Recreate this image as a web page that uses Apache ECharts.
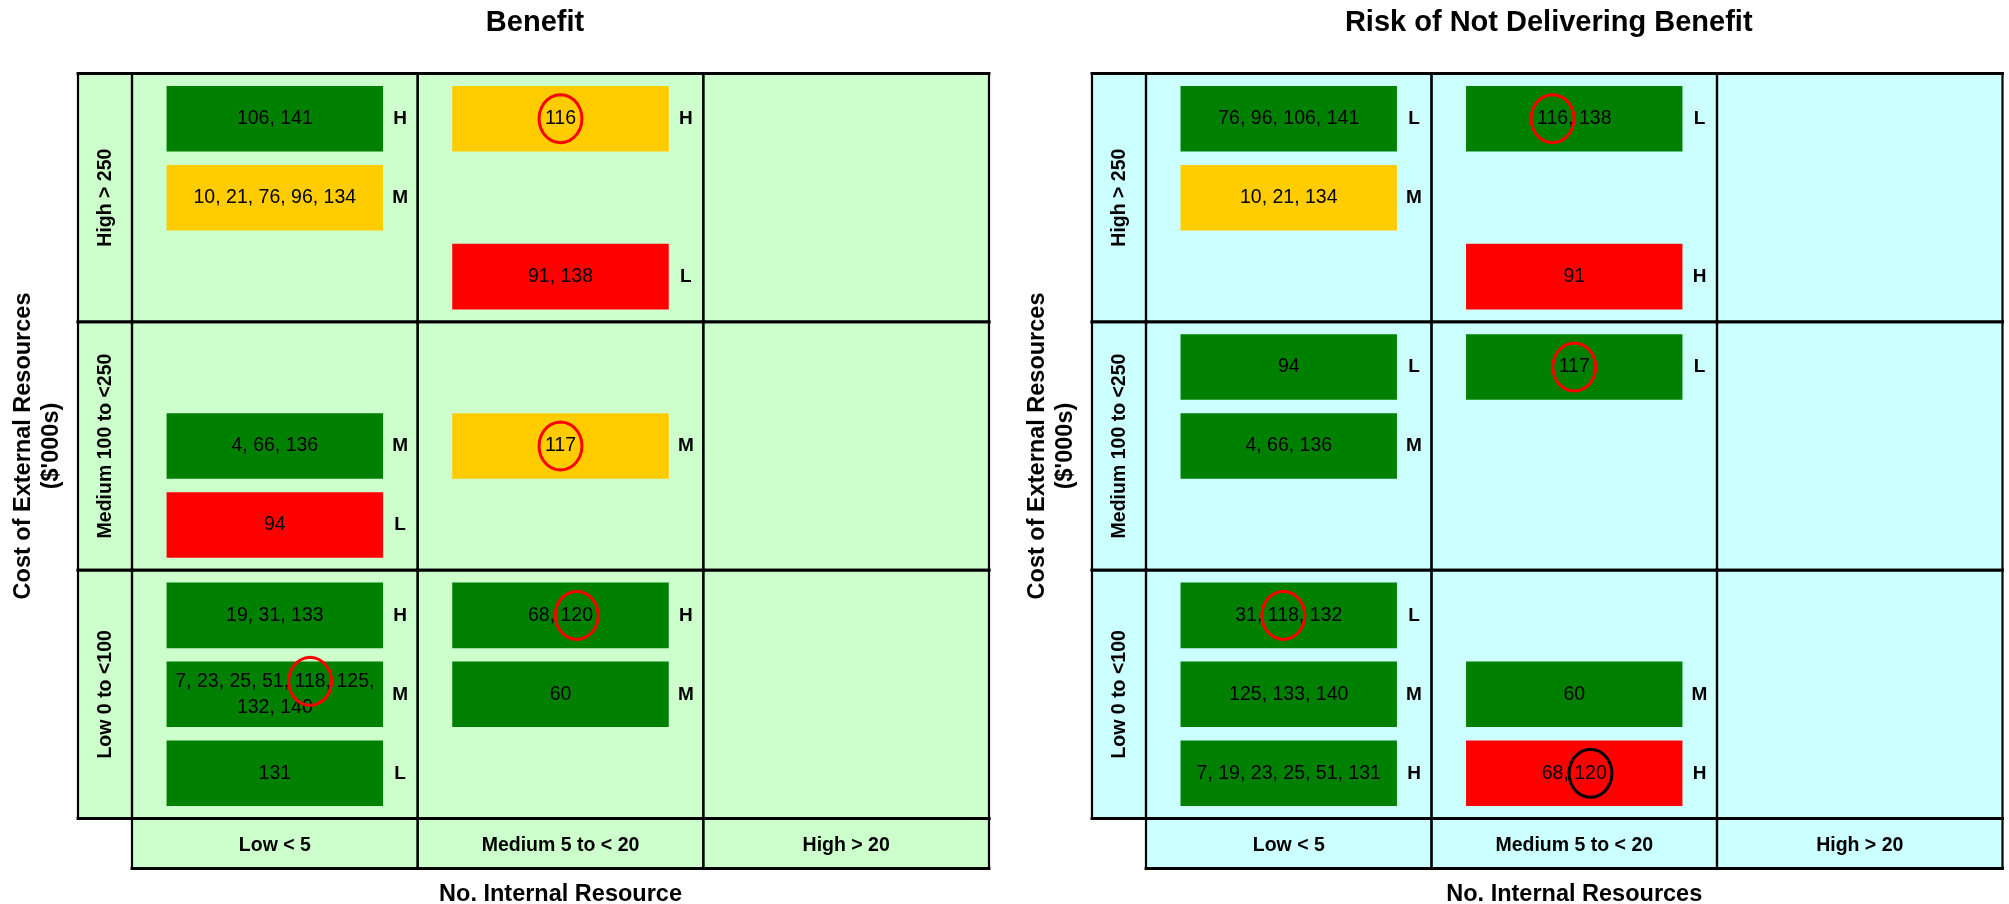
<!DOCTYPE html>
<html>
<head>
<meta charset="utf-8">
<script src="https://cdn.jsdelivr.net/npm/echarts@6/dist/echarts.min.js"></script>
<style>
  html, body { margin: 0; padding: 0; background: #ffffff; }
  #chart { width: 2009px; height: 904px; }
</style>
</head>
<body>
<div id="chart"></div>
<script>
// Axis categories (rows run top to bottom, columns left to right)
const ROW_LABELS = ['High > 250', 'Medium 100 to <250', 'Low 0 to <100'];
const COL_LABELS = ['Low < 5', 'Medium 5 to < 20', 'High > 20'];
const PANEL_TITLES = ['Benefit', 'Risk of Not Delivering Benefit'];
const X_TITLES = ['No. Internal Resource', 'No. Internal Resources'];
const Y_TITLE = "Cost of External Resources\n($'000s)";

// Each entry: [column, row, slot within cell, project ids, rating, colour band, highlighted id]
const BENEFIT_ITEMS = [
  [0, 0, 0, '106, 141', 'H', 'G', null],
  [0, 0, 1, '10, 21, 76, 96, 134', 'M', 'Y', null],
  [1, 0, 0, '116', 'H', 'Y', '116'],
  [1, 0, 2, '91, 138', 'L', 'R', null],
  [0, 1, 1, '4, 66, 136', 'M', 'G', null],
  [0, 1, 2, '94', 'L', 'R', null],
  [1, 1, 1, '117', 'M', 'Y', '117'],
  [0, 2, 0, '19, 31, 133', 'H', 'G', null],
  [0, 2, 1, '7, 23, 25, 51, 118, 125,\n132, 140', 'M', 'G', '118'],
  [0, 2, 2, '131', 'L', 'G', null],
  [1, 2, 0, '68, 120', 'H', 'G', '120'],
  [1, 2, 1, '60', 'M', 'G', null]
];

const RISK_ITEMS = [
  [0, 0, 0, '76, 96, 106, 141', 'L', 'G', null],
  [0, 0, 1, '10, 21, 134', 'M', 'Y', null],
  [1, 0, 0, '116, 138', 'L', 'G', '116'],
  [1, 0, 2, '91', 'H', 'R', null],
  [0, 1, 0, '94', 'L', 'G', null],
  [0, 1, 1, '4, 66, 136', 'M', 'G', null],
  [1, 1, 0, '117', 'L', 'G', '117'],
  [0, 2, 0, '31, 118, 132', 'L', 'G', '118'],
  [0, 2, 1, '125, 133, 140', 'M', 'G', null],
  [0, 2, 2, '7, 19, 23, 25, 51, 131', 'H', 'G', null],
  [1, 2, 1, '60', 'M', 'G', null],
  [1, 2, 2, '68, 120', 'H', 'R', '120']
];

// ---- styling and layout ----
const BAND_COLORS = { G: '#008000', Y: '#FFCC00', R: '#FF0000' };
const FONT = 'Arial, "Liberation Sans", sans-serif';
const BOX_FONT_SIZE = 19.5;
const BOX_LINE_H = 26;
const SLOT_CENTERS = [0.182, 0.5, 0.818];   // slot centre as a fraction of the row
const BOX_W_FRAC = 0.758;                    // box width as a fraction of the column
const BOX_H_FRAC = 0.264;                    // box height as a fraction of the row
const RATING_INSET = 17.5;                   // rating letter centre, px from the column's right edge
const RING_RX = 21.5, RING_RY = 24;
const H_RULE = 2.8, V_RULE = 2.2;            // border widths of horizontal / vertical rules

const GRID_TOP = 73.5, GRID_HEIGHT = 745;
const LABEL_COL_W = 54, LABEL_ROW_H = 50;
const PANELS = [
  { items: BENEFIT_ITEMS, left: 132, width: 857, bg: '#CCFFCC' },
  { items: RISK_ITEMS, left: 1146, width: 856.5, bg: '#CCFFFF' }
];

const measureCtx = document.createElement('canvas').getContext('2d');
measureCtx.font = BOX_FONT_SIZE + 'px ' + FONT;
const textWidth = s => measureCtx.measureText(s).width;

function halfLabel(labels) {
  return function (v) {
    const i = v - 0.5;
    return Number.isInteger(i) && labels[i] ? labels[i] : '';
  };
}

// Matrix cells, row-label strip and column-label strip
function cellData() {
  const d = [];
  for (let r = 0; r < 3; r++) for (let c = 0; c < 3; c++) d.push([c, r, 0]);
  for (let r = 0; r < 3; r++) d.push([0, r, 1]);
  for (let c = 0; c < 3; c++) d.push([c, 3, 2]);
  return d;
}

function rule(x1, y1, x2, y2, w) {
  return {
    type: 'line', shape: { x1: x1, y1: y1, x2: x2, y2: y2 },
    style: { stroke: '#000000', lineWidth: w, lineCap: 'square' }, z2: 5
  };
}

function renderCell(bg) {
  return function (params, api) {
    const c = api.value(0), r = api.value(1), kind = api.value(2);
    let x0, y0, x1, y1;
    if (kind === 0) {
      const a = api.coord([c, r]), b = api.coord([c + 1, r + 1]);
      x0 = a[0]; y0 = a[1]; x1 = b[0]; y1 = b[1];
    } else if (kind === 1) {
      const a = api.coord([0, r]), b = api.coord([0, r + 1]);
      x0 = a[0] - LABEL_COL_W; x1 = a[0]; y0 = a[1]; y1 = b[1];
    } else {
      const a = api.coord([c, 3]), b = api.coord([c + 1, 3]);
      x0 = a[0]; x1 = b[0]; y0 = a[1]; y1 = a[1] + LABEL_ROW_H;
    }
    return {
      type: 'group',
      children: [
        { type: 'rect', shape: { x: x0, y: y0, width: x1 - x0, height: y1 - y0 }, style: { fill: bg } },
        rule(x0, y0, x1, y0, H_RULE),
        rule(x0, y1, x1, y1, H_RULE),
        rule(x0, y0, x0, y1, V_RULE),
        rule(x1, y0, x1, y1, V_RULE)
      ]
    };
  };
}

function ringPoints(cx, cy) {
  const pts = [];
  const n = 28;
  for (let k = 0; k < n; k++) {
    const t = (k / n) * Math.PI * 2;
    pts.push([cx + RING_RX * Math.cos(t), cy + RING_RY * Math.sin(t)]);
  }
  return pts;
}

function renderBox(items) {
  return function (params, api) {
    const it = items[params.dataIndex];
    const col = api.value(0), row = api.value(1), slot = api.value(2);
    const tl = api.coord([col, row]), br = api.coord([col + 1, row + 1]);
    const cw = br[0] - tl[0], rh = br[1] - tl[1];
    const cx = tl[0] + cw / 2;
    const cy = tl[1] + rh * SLOT_CENTERS[slot];
    const bw = cw * BOX_W_FRAC, bh = rh * BOX_H_FRAC;
    const children = [
      {
        type: 'rect',
        shape: { x: cx - bw / 2, y: cy - bh / 2, width: bw, height: bh },
        style: { fill: BAND_COLORS[it[5]] }
      },
      {
        type: 'text',
        style: {
          text: it[3], x: cx, y: cy, align: 'center', verticalAlign: 'middle',
          fontSize: BOX_FONT_SIZE, fontFamily: FONT, lineHeight: BOX_LINE_H, fill: '#000000'
        }
      },
      {
        type: 'text',
        style: {
          text: it[4], x: br[0] - RATING_INSET, y: cy, align: 'center', verticalAlign: 'middle',
          fontSize: 19, fontWeight: 'bold', fontFamily: FONT, fill: '#000000'
        }
      }
    ];
    if (it[6]) {
      // ring drawn around the highlighted id inside the label
      const lines = it[3].split('\n');
      const li = lines.findIndex(l => l.indexOf(it[6]) >= 0);
      const line = lines[li];
      const start = cx - textWidth(line) / 2;
      const pos = line.indexOf(it[6]);
      const rx = start + textWidth(line.slice(0, pos)) + textWidth(it[6]) / 2;
      const ry = cy + (li - (lines.length - 1) / 2) * BOX_LINE_H;
      children.push({
        type: 'polygon',
        shape: { points: ringPoints(rx, ry) },
        style: { fill: 'none', stroke: it[5] === 'R' ? '#000000' : '#FF0000', lineWidth: 3 }
      });
    }
    return { type: 'group', children: children };
  };
}

const labelStyle = { color: '#000000', fontSize: 19.5, fontWeight: 'bold', fontFamily: FONT };
const nameStyle = { color: '#000000', fontSize: 23.5, fontWeight: 'bold', fontFamily: FONT };

const option = {
  animation: false,
  backgroundColor: '#ffffff',
  grid: PANELS.map(p => ({
    left: p.left, top: GRID_TOP, width: p.width, height: GRID_HEIGHT,
    containLabel: false, outerBoundsMode: 'none'
  })),
  xAxis: PANELS.map((p, i) => ({
    gridIndex: i, type: 'value', min: 0, max: 3, interval: 0.5, z: 10,
    axisLine: { show: false }, axisTick: { show: false }, splitLine: { show: false },
    axisLabel: Object.assign({ formatter: halfLabel(COL_LABELS), margin: 17 }, labelStyle),
    name: X_TITLES[i], nameLocation: 'middle', nameGap: 64, nameTextStyle: nameStyle
  })),
  yAxis: PANELS.map((p, i) => ({
    gridIndex: i, type: 'value', min: 0, max: 3, interval: 0.5, inverse: true, z: 10,
    axisLine: { show: false }, axisTick: { show: false }, splitLine: { show: false },
    axisLabel: Object.assign({ formatter: halfLabel(ROW_LABELS), margin: 16, rotate: 90 }, labelStyle),
    name: Y_TITLE, nameLocation: 'middle', nameRotate: 90, nameGap: 66,
    nameTextStyle: Object.assign({ lineHeight: 28, align: 'center' }, nameStyle)
  })),
  graphic: PANELS.map((p, i) => ({
    type: 'text',
    x: (p.left - LABEL_COL_W + p.left + p.width) / 2 + 1.5,
    y: 23,
    style: {
      text: PANEL_TITLES[i], align: 'center', verticalAlign: 'middle',
      fontSize: 29, fontWeight: 'bold', fontFamily: FONT, fill: '#000000'
    }
  })),
  series: []
};

PANELS.forEach((p, i) => {
  option.series.push({
    type: 'custom', name: 'cells' + i, xAxisIndex: i, yAxisIndex: i, z: 1, clip: false,
    data: cellData(), renderItem: renderCell(p.bg), silent: true
  });
  option.series.push({
    type: 'custom', name: 'projects' + i, xAxisIndex: i, yAxisIndex: i, z: 2, clip: false,
    data: p.items.map(it => [it[0], it[1], it[2]]), renderItem: renderBox(p.items), silent: true
  });
});

const chart = echarts.init(document.getElementById('chart'), null, { renderer: 'canvas' });
chart.setOption(option);
</script>
</body>
</html>
